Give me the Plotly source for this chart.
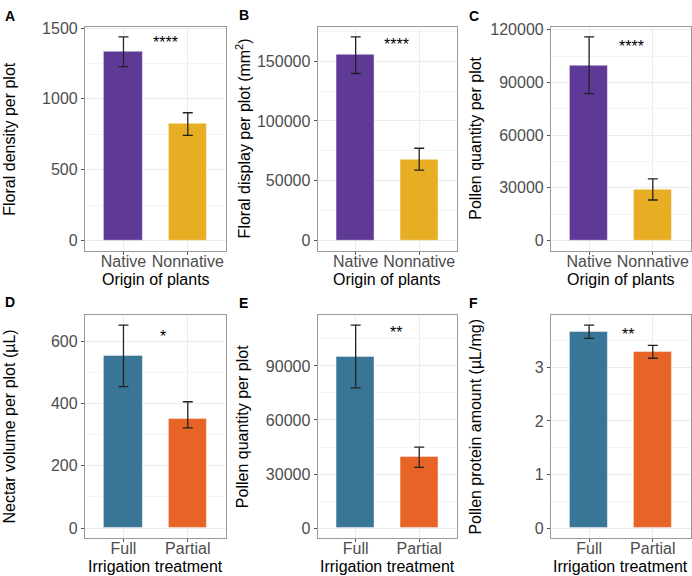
import plotly.graph_objects as go

W, H = 692, 576

# ---- data ----
origin_cats = ["Native", "Nonnative"]
irrig_cats = ["Full", "Partial"]

floral_density = [1333, 823]
floral_density_lo = [1228, 742]
floral_density_hi = [1437, 902]

floral_display = [155000, 67500]
floral_display_lo = [139700, 58900]
floral_display_hi = [170300, 77200]

pollen_qty_origin = [99750, 28900]
pollen_qty_origin_lo = [83600, 23060]
pollen_qty_origin_hi = [115900, 35060]

nectar_volume = [552.6, 349.5]
nectar_volume_lo = [454.7, 322]
nectar_volume_hi = [652.6, 406]

pollen_qty_irrig = [95090, 39270]
pollen_qty_irrig_lo = [77820, 33640]
pollen_qty_irrig_hi = [112730, 44900]

pollen_protein = [3.663, 3.288]
pollen_protein_lo = [3.54, 3.17]
pollen_protein_hi = [3.79, 3.41]

origin_colors = ["#5E3A96", "#E7AD23"]
irrig_colors = ["#387596", "#E86426"]

panels = [
    dict(letter="A", cats=origin_cats, v=floral_density, lo=floral_density_lo, hi=floral_density_hi,
         colors=origin_colors, ytitle="Floral density per plot", xtitle="Origin of plants",
         dtick=500, sig="****", sigx=0.65, sigy=1395),
    dict(letter="B", cats=origin_cats, v=floral_display, lo=floral_display_lo, hi=floral_display_hi,
         colors=origin_colors, ytitle="Floral display per plot (mm<sup>2</sup>)", xtitle="Origin of plants",
         dtick=50000, sig="****", sigx=0.65, sigy=164000),
    dict(letter="C", cats=origin_cats, v=pollen_qty_origin, lo=pollen_qty_origin_lo, hi=pollen_qty_origin_hi,
         colors=origin_colors, ytitle="Pollen quantity per plot", xtitle="Origin of plants",
         dtick=30000, sig="****", sigx=0.66, sigy=110500),
    dict(letter="D", cats=irrig_cats, v=nectar_volume, lo=nectar_volume_lo, hi=nectar_volume_hi,
         colors=irrig_colors, ytitle="Nectar volume per plot (µL)", xtitle="Irrigation treatment",
         dtick=200, sig="*", sigx=0.62, sigy=615),
    dict(letter="E", cats=irrig_cats, v=pollen_qty_irrig, lo=pollen_qty_irrig_lo, hi=pollen_qty_irrig_hi,
         colors=irrig_colors, ytitle="Pollen quantity per plot", xtitle="Irrigation treatment",
         dtick=30000, sig="**", sigx=0.63, sigy=108500),
    dict(letter="F", cats=irrig_cats, v=pollen_protein, lo=pollen_protein_lo, hi=pollen_protein_hi,
         colors=irrig_colors, ytitle="Pollen protein amount (µL/mg)", xtitle="Irrigation treatment",
         dtick=1, sig="**", sigx=0.61, sigy=3.62),
]

# box positions in pixels (left, right, top, bottom)
col_px = [(85, 226.7), (318, 458), (551.7, 692)]
row_px = [(20, 246.7), (311.7, 537.7)]
xtitle_y = [276, 566]
letter_px = [(3, 9), (237, 8), (468, 9), (3, 299), (237, 300), (468, 300)]

FONT = "Liberation Sans, Arial, sans-serif"
fig = go.Figure()
annotations = []

for i, p in enumerate(panels):
    r, c = divmod(i, 3)
    n = i + 1
    xa = "x" if n == 1 else f"x{n}"
    ya = "y" if n == 1 else f"y{n}"
    err_plus = [h - v for h, v in zip(p["hi"], p["v"])]
    err_minus = [v - l for v, l in zip(p["v"], p["lo"])]
    fig.add_trace(go.Bar(
        x=p["cats"], y=p["v"], width=0.6,
        marker=dict(color=p["colors"], line=dict(color="rgba(255,255,255,0.45)", width=1)),
        error_y=dict(type="data", array=err_plus, arrayminus=err_minus,
                     color="#222222", thickness=1.3, width=5),
        xaxis=xa, yaxis=ya, showlegend=False,
    ))
    ymax = max(p["hi"])
    yr = [-0.05 * ymax, 1.05 * ymax]
    x0, x1 = col_px[c]
    t0, b0 = row_px[r]
    xkey = "xaxis" if n == 1 else f"xaxis{n}"
    ykey = "yaxis" if n == 1 else f"yaxis{n}"
    fig.update_layout(**{
        xkey: dict(domain=[x0 / W, min(x1 / W, 1)], anchor=ya, type="category",
                   range=[-0.6, 1.6], showgrid=True, gridcolor="#EBEBEB", gridwidth=1,
                   showline=True, linecolor="#9A9A9A", linewidth=1, mirror=True,
                   ticks="outside", ticklen=3, tickcolor="#555555", ticklabelstandoff=-7,
                   tickfont=dict(family=FONT, size=16, color="#4D4D4D"),
                   zeroline=False, fixedrange=True),
        ykey: dict(domain=[1 - b0 / H, 1 - t0 / H], anchor=xa, range=yr,
                   tick0=0, dtick=p["dtick"], tickformat="d", showgrid=True, gridcolor="#EBEBEB", gridwidth=1,
                   minor=dict(showgrid=True, gridcolor="#F4F4F4", gridwidth=0.6, dtick=p["dtick"] / 2, tick0=0),
                   showline=True, linecolor="#9A9A9A", linewidth=1, mirror=True,
                   ticks="outside", ticklen=3, tickcolor="#555555",
                   tickfont=dict(family=FONT, size=16, color="#4D4D4D"),
                   zeroline=False, fixedrange=True),
    })
    # axis titles
    annotations.append(dict(x=(x0 + x1) / 2 / W, y=1 - xtitle_y[r] / H, xref="paper", yref="paper",
                            text=p["xtitle"], showarrow=False,
                            font=dict(family=FONT, size=16, color="black"),
                            xanchor="center", yanchor="middle"))
    annotations.append(dict(x=(x0 - 75) / W, y=1 - (t0 + b0) / 2 / H, xref="paper", yref="paper",
                            text=p["ytitle"], showarrow=False, textangle=-90,
                            font=dict(family=FONT, size=16, color="black"),
                            xanchor="center", yanchor="middle"))
    annotations.append(dict(x=p["sigx"], y=p["sigy"], xref=xa, yref=ya, text=p["sig"],
                            showarrow=False, font=dict(family=FONT, size=16, color="black"),
                            xanchor="center", yanchor="middle"))
    lx, ly = letter_px[i]
    annotations.append(dict(x=lx / W, y=1 - ly / H, xref="paper", yref="paper",
                            text=f"<b>{p['letter']}</b>", showarrow=False,
                            font=dict(family=FONT, size=14, color="black"),
                            xanchor="left", yanchor="middle"))

fig.update_layout(
    width=W, height=H, margin=dict(l=0, r=0, t=0, b=0),
    paper_bgcolor="white", plot_bgcolor="white",
    annotations=annotations, bargap=0,
    font=dict(family=FONT),
)

fig.write_html("out.html")
